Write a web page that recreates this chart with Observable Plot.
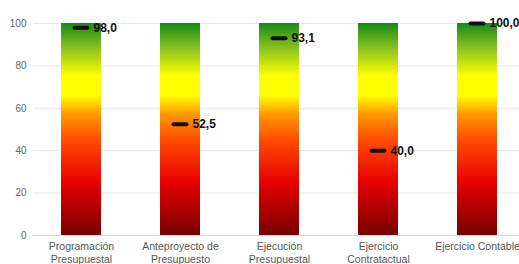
<!DOCTYPE html>
<html>
<head>
<meta charset="utf-8">
<script src="https://cdn.jsdelivr.net/npm/d3@7"></script>
<script src="https://cdn.jsdelivr.net/npm/@observablehq/plot@0.6"></script>
<style>
  html, body { margin: 0; padding: 0; background: #fff; }
  #chart svg { display: block; font-family: "Liberation Sans", Arial, sans-serif; }
</style>
</head>
<body>
<div id="chart"></div>
<script>
const categories = ["Programación Presupuestal", "Anteproyecto de Presupuesto", "Ejecución Presupuestal", "Ejercicio Contratactual", "Ejercicio Contable"];
const tickLabels = ["Programación\nPresupuestal", "Anteproyecto de\nPresupuesto", "Ejecución\nPresupuestal", "Ejercicio\nContratactual", "Ejercicio Contable"];
const values = [98.0, 52.5, 93.1, 40.0, 100.0];
const maxValues = [100, 100, 100, 100, 100];
const yTicks = [0, 20, 40, 60, 80, 100];

const data = categories.map((c, i) => ({category: c, value: values[i], max: maxValues[i]}));
const labelOf = new Map(categories.map((c, i) => [c, tickLabels[i]]));
const fmt = v => v.toFixed(1).replace(".", ",");

const gradientStops = [
  [0, "#780000"], [0.25, "#e60000"], [0.45, "#ff4d00"], [0.57, "#ff9900"],
  [0.66, "#ffff00"], [0.75, "#ffff00"], [0.88, "#8cc21e"], [1, "#168c16"]
];

const defs = () => {
  const d = d3.create("svg:defs");
  const g = d.append("linearGradient").attr("id", "barGrad")
    .attr("x1", 0).attr("y1", 1).attr("x2", 0).attr("y2", 0);
  gradientStops.forEach(([o, c]) => g.append("stop").attr("offset", o).attr("stop-color", c));
  return d.node();
};

const chart = Plot.plot({
  width: 519,
  height: 264,
  marginTop: 23,
  marginBottom: 29,
  marginLeft: 33,
  marginRight: 0,
  style: {fontFamily: "'Liberation Sans', Arial, sans-serif", background: "#fff"},
  x: {domain: categories, paddingInner: 0.596, paddingOuter: 0.2525, align: 0.56, label: null},
  y: {domain: [0, 100], ticks: yTicks, label: null},
  marks: [
    defs,
    Plot.gridY(yTicks, {stroke: "#e6e6e6", strokeOpacity: 1}),
    Plot.ruleY([0], {stroke: "#d8d8d8"}),
    Plot.barY(data, {x: "category", y: "max", fill: "url(#barGrad)"}),
    Plot.tickY(data, {x: "category", y: "value", stroke: "#111", strokeWidth: 4, inset: 13.5, strokeLinecap: "round"}),
    Plot.text(data, {x: "category", y: "value", text: d => fmt(d.value), dx: 12, textAnchor: "start", fontWeight: "bold", fontSize: 12, fill: "#111"}),
    Plot.axisY({ticks: yTicks, tickSize: 0, tickPadding: 7, fontSize: 10, fill: "#666"}),
    Plot.axisX({tickSize: 0, tickPadding: 6, fontSize: 10.5, fill: "#555", lineHeight: 1.2, tickFormat: c => labelOf.get(c)})
  ]
});
document.getElementById("chart").appendChild(chart);
</script>
</body>
</html>
